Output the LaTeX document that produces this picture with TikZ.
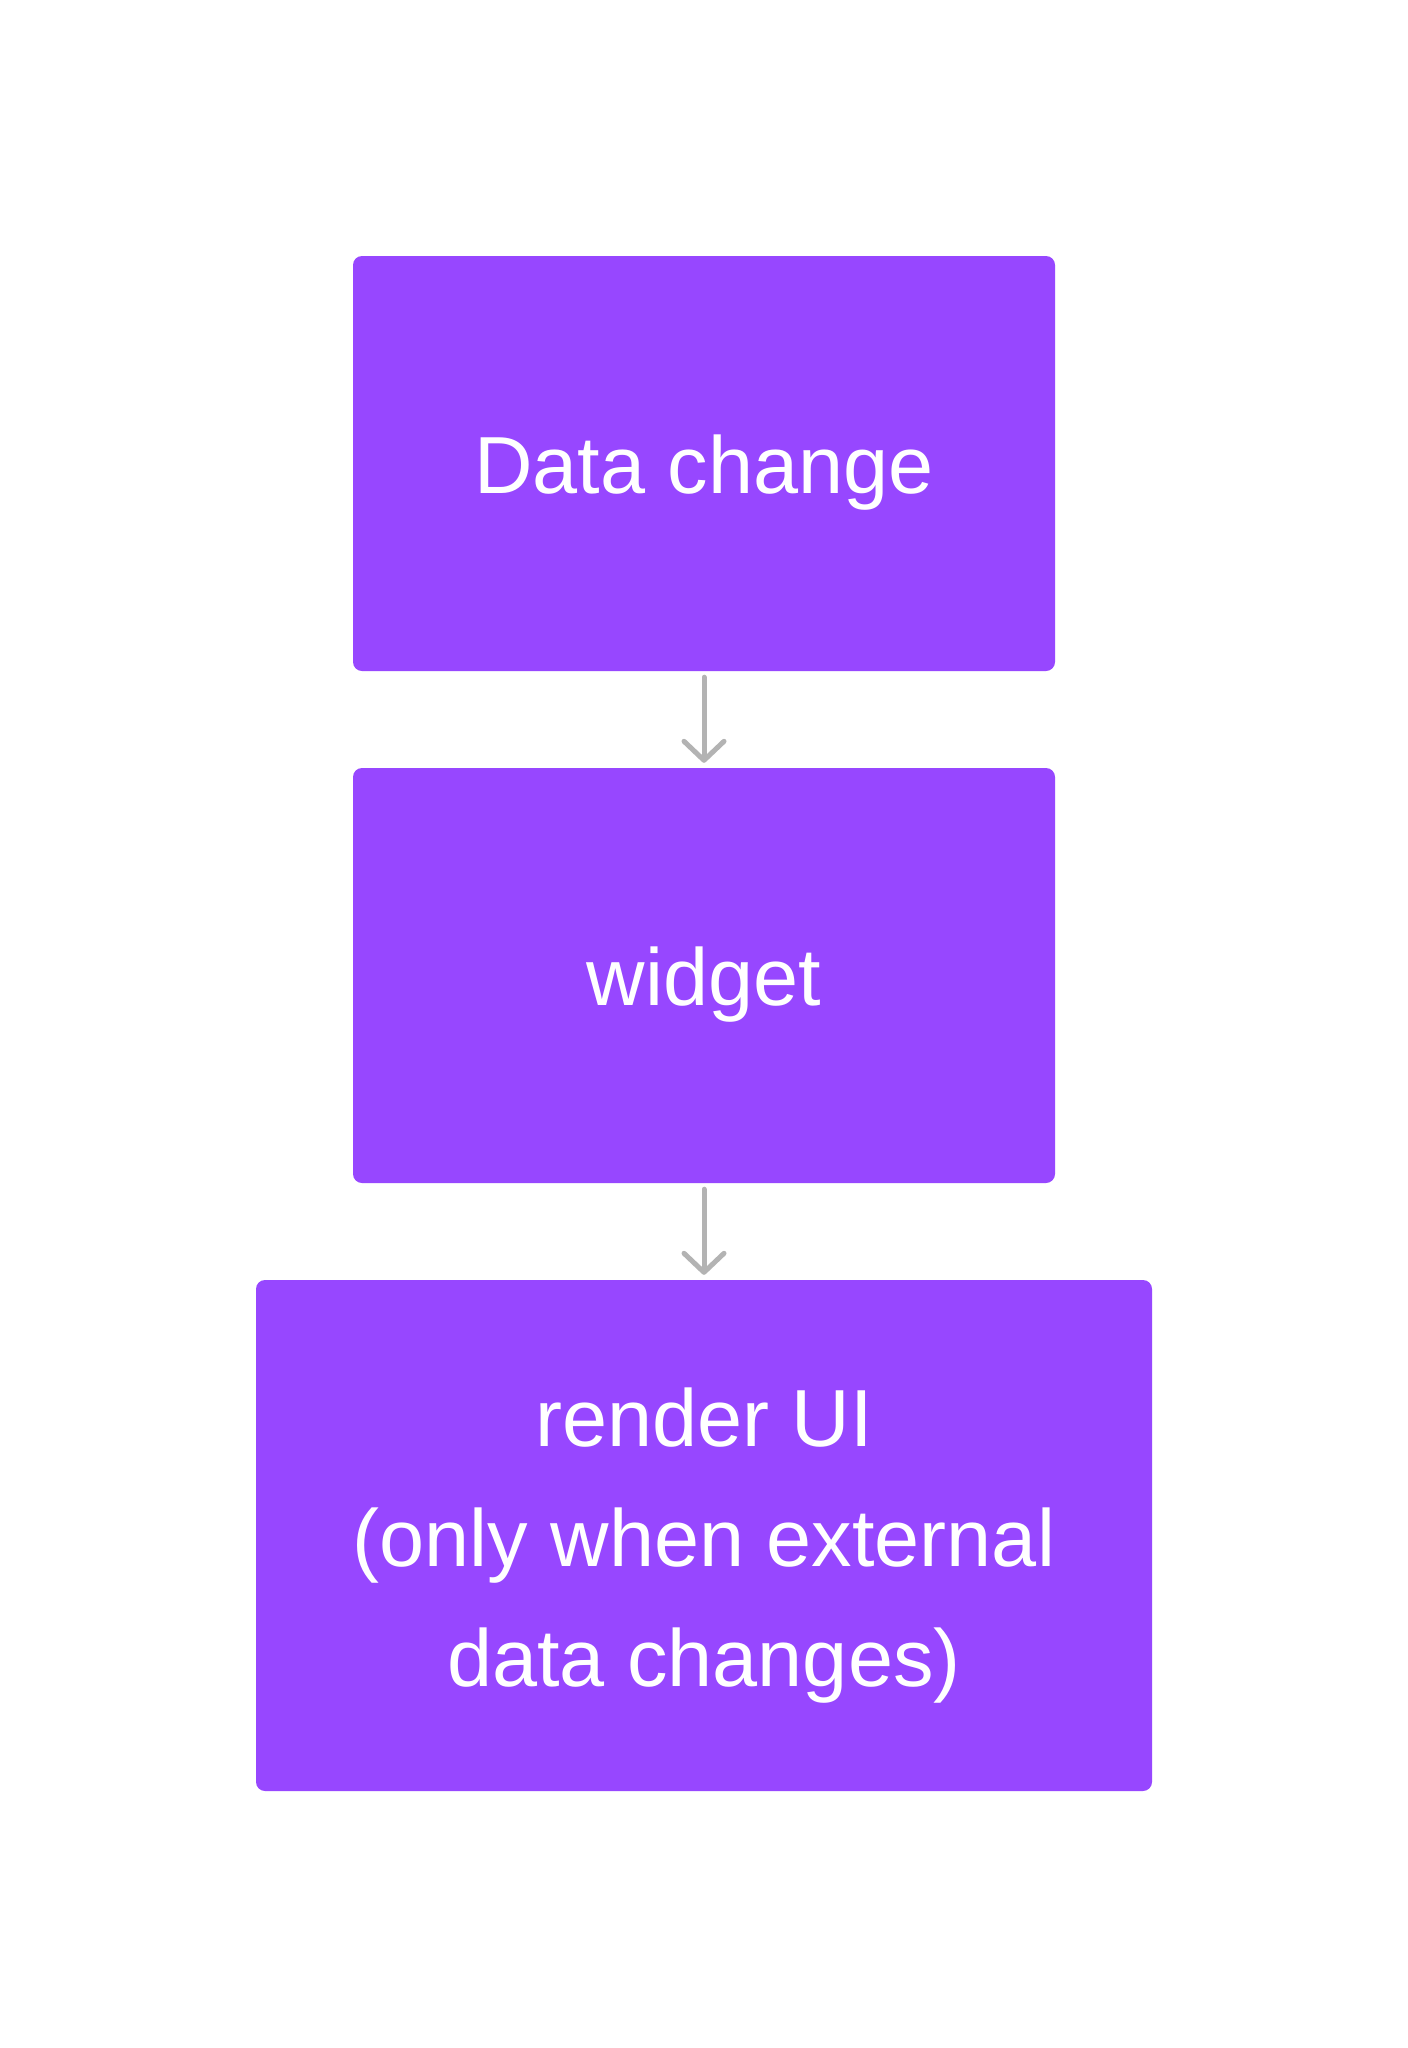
\documentclass[tikz,border=0pt]{standalone}
\usepackage{fontspec}
\setmainfont{Liberation Sans}
\usetikzlibrary{arrows.meta}
\definecolor{boxpurple}{HTML}{9747FF}
\definecolor{arrowgray}{HTML}{B3B3B3}
\tikzset{
  flowbox/.style={fill=boxpurple, draw=none, rounded corners=9pt, inner sep=0pt},
  boxtext/.style={anchor=base, text=white, inner sep=0pt, font=\fontsize{81}{120}\selectfont},
  flowarrow/.style={draw=arrowgray, line width=5pt, line cap=round,
    -{Straight Barb[length=19pt, width=40pt, line width=5pt, round]},
    shorten <=6pt, shorten >=5pt}
}
\begin{document}
\begin{tikzpicture}[x=1pt,y=-1pt]
\useasboundingbox (0,0) rectangle (1408,2048);
\fill[white] (0,0) rectangle (1408,2048);
\node[flowbox, minimum width=702pt, minimum height=415pt] (b1) at (704,463.5) {};
\node[flowbox, minimum width=702pt, minimum height=415pt] (b2) at (704,975.5) {};
\node[flowbox, minimum width=896pt, minimum height=511pt] (b3) at (704,1535.5) {};
\node[boxtext] (t1) at (704,493) {Data change};
\node[boxtext] (t2) at (704,1005) {widget};
\node[boxtext] (t3a) at (704,1446) {render UI};
\node[boxtext] (t3b) at (704,1566) {(only when external};
\node[boxtext] (t3c) at (704,1686) {data changes)};
\draw[flowarrow] (b1.south) -- (b2.north);
\draw[flowarrow] (b2.south) -- (b3.north);
\end{tikzpicture}
\end{document}
